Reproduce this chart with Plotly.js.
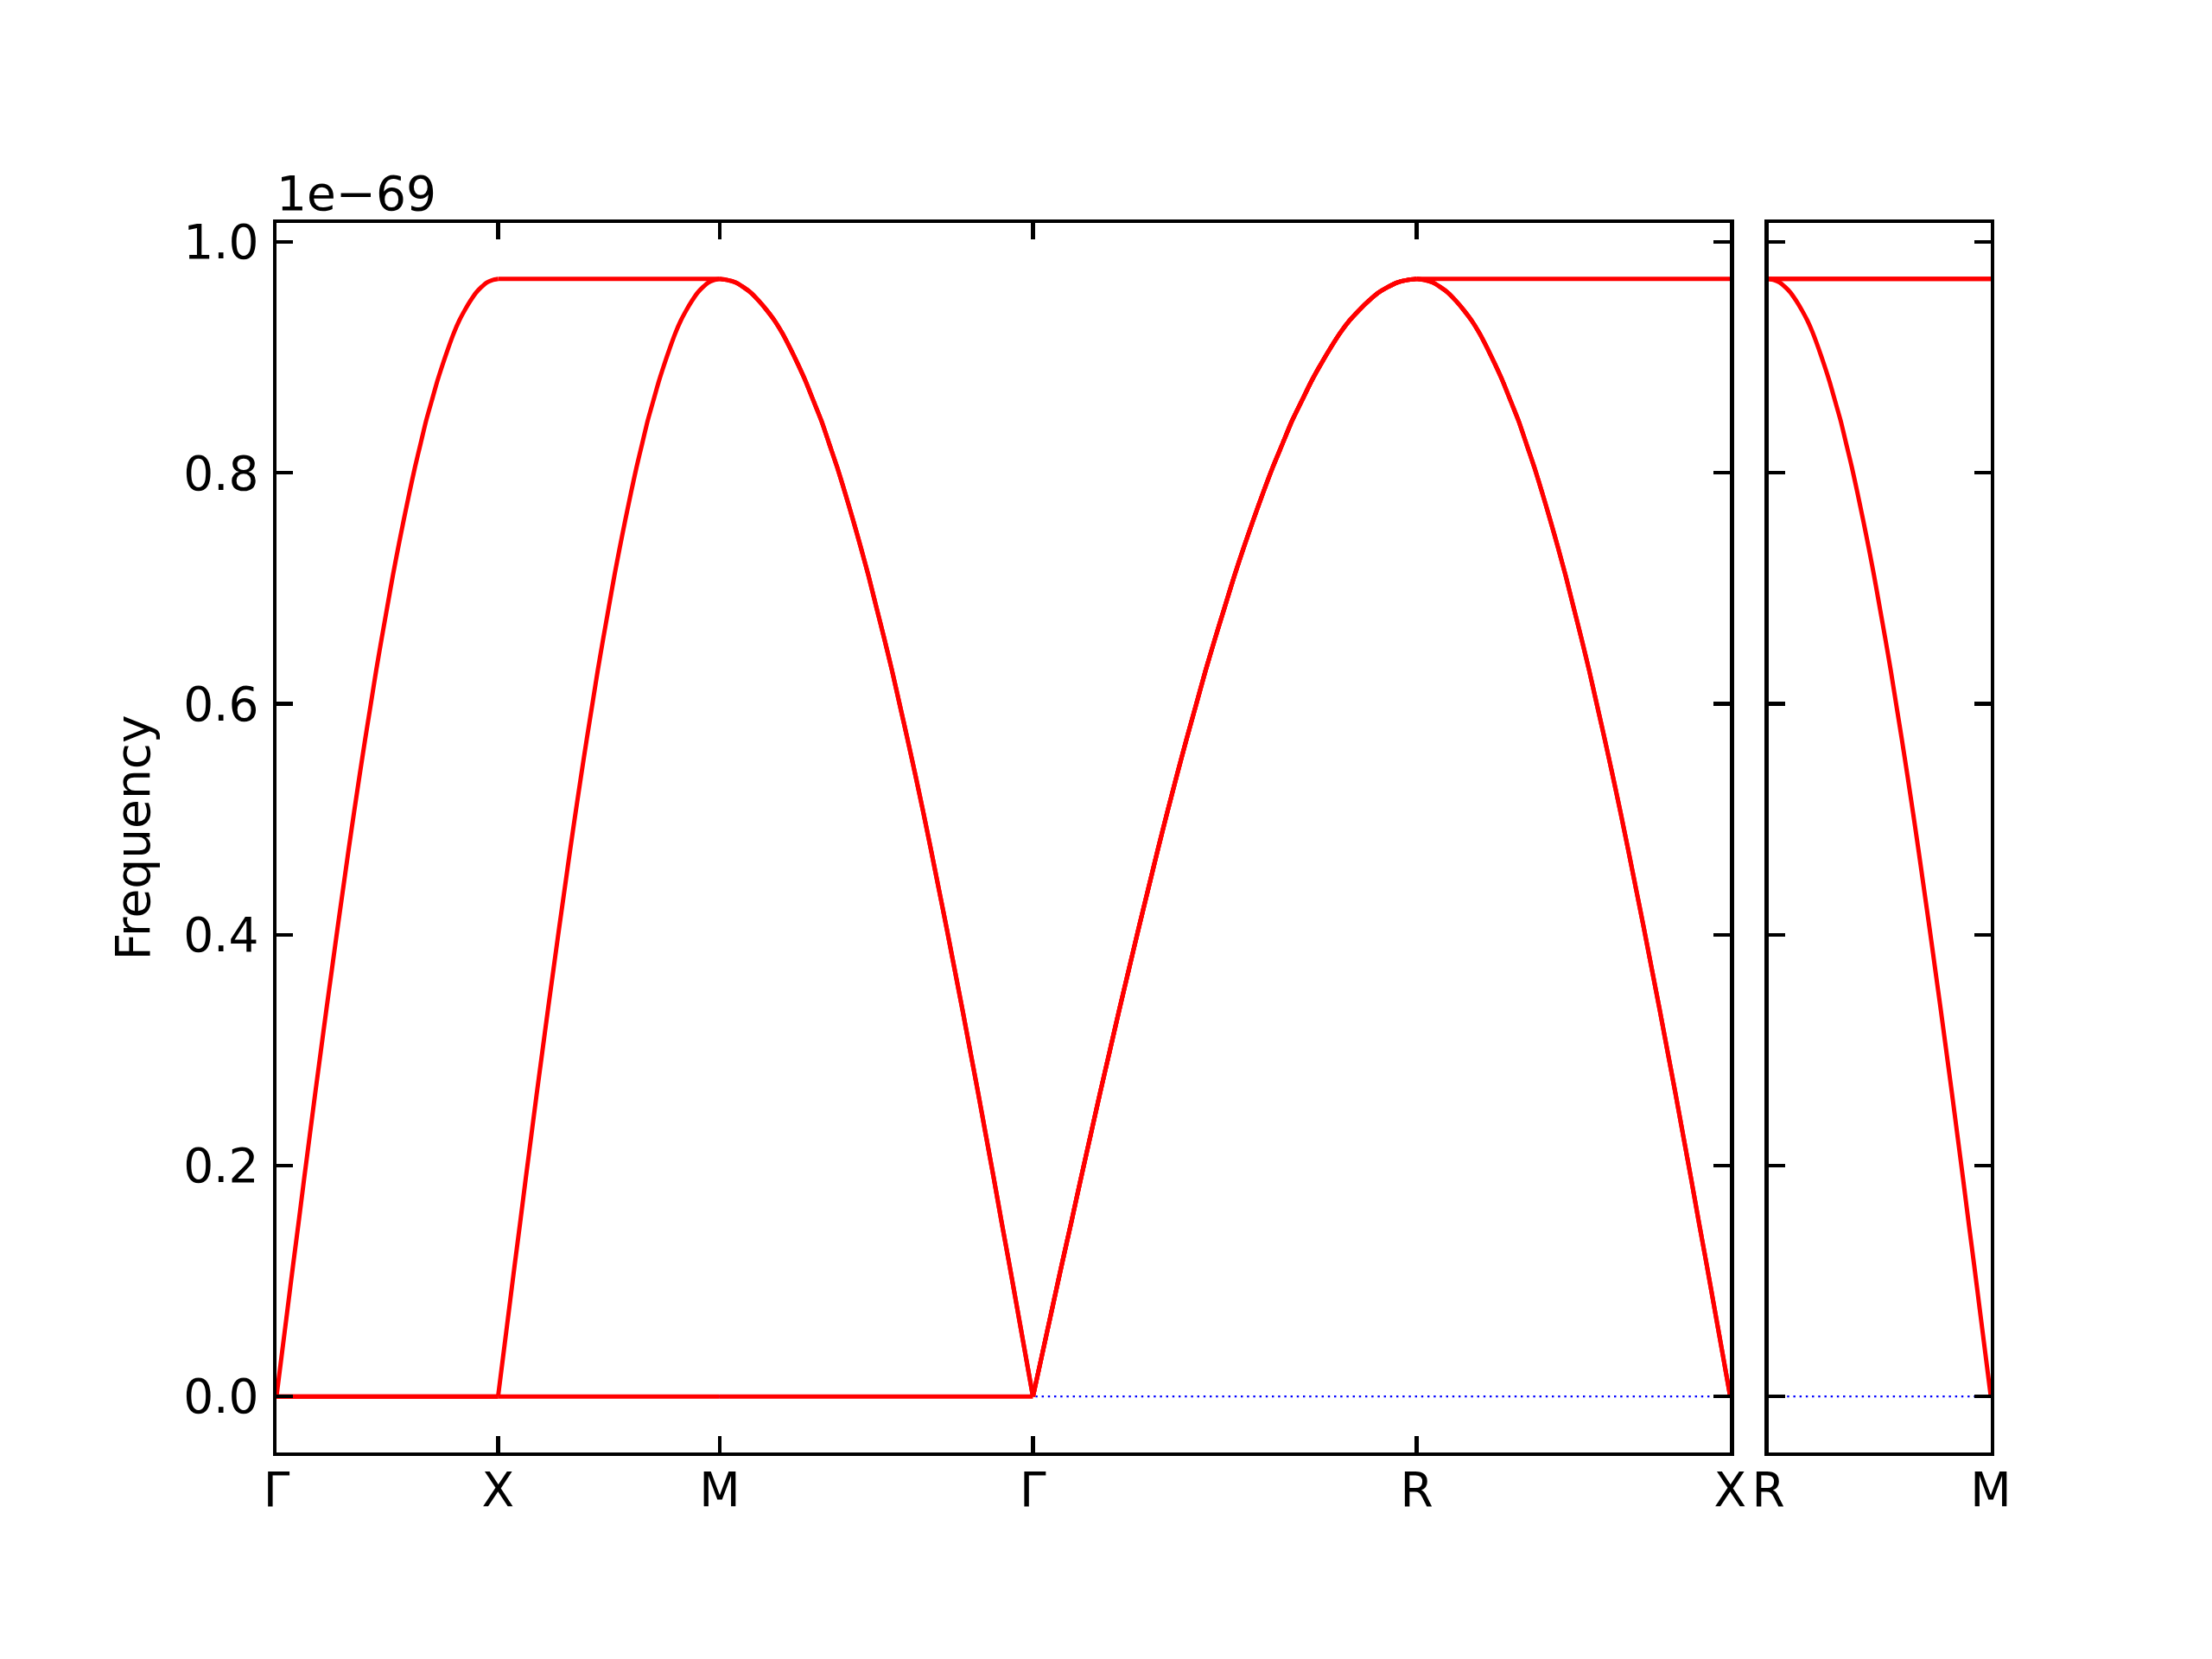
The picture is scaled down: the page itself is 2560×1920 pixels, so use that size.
<!DOCTYPE html>
<html>
<head>
<meta charset="utf-8">
<script src="https://cdn.plot.ly/plotly-3.0.1.min.js"></script>
<style>html,body{margin:0;padding:0;background:#fff;}#chart{width:2560px;height:1920px;}</style>
</head>
<body>
<div id="chart"></div>
<script>
// High-symmetry path (distances in units of pi/a) and labels
const tickPosLeft = [0, 1, 2, 3.414, 5.146, 6.561];
const tickLabelsLeft = ["Γ", "X", "M", "Γ", "R", "X"];
const tickPosRight = [0, 1];
const tickLabelsRight = ["R", "M"];

// Sample fractions along each path segment
const frac = [0, 0.025, 0.05, 0.075, 0.1, 0.125, 0.15, 0.175, 0.2, 0.225, 0.25, 0.275, 0.3, 0.325, 0.35, 0.375, 0.4, 0.425, 0.45, 0.475, 0.5,
  0.525, 0.55, 0.575, 0.6, 0.625, 0.65, 0.675, 0.7, 0.725, 0.75, 0.775, 0.8, 0.825, 0.85, 0.875, 0.9, 0.925, 0.95, 0.975, 1];

// Frequencies (units of 1e-69) read along a branch
const bandRise = [0, 0.038, 0.076, 0.114, 0.151, 0.189, 0.226, 0.263, 0.299, 0.335, 0.370, 0.405, 0.439, 0.473, 0.506, 0.538, 0.569, 0.599, 0.629, 0.657, 0.684,
  0.711, 0.736, 0.760, 0.783, 0.805, 0.825, 0.845, 0.862, 0.879, 0.894, 0.908, 0.921, 0.932, 0.941, 0.949, 0.956, 0.961, 0.965, 0.967, 0.968];
const bandFall = [0.968, 0.967, 0.965, 0.961, 0.956, 0.949, 0.941, 0.932, 0.921, 0.908, 0.894, 0.879, 0.862, 0.845, 0.825, 0.805, 0.783, 0.760, 0.736, 0.711, 0.684,
  0.657, 0.629, 0.599, 0.569, 0.538, 0.506, 0.473, 0.439, 0.405, 0.370, 0.335, 0.299, 0.263, 0.226, 0.189, 0.151, 0.114, 0.076, 0.038, 0];
const bandTop = [0.968, 0.968, 0.968, 0.968, 0.968, 0.968, 0.968, 0.968, 0.968, 0.968, 0.968, 0.968, 0.968, 0.968, 0.968, 0.968, 0.968, 0.968, 0.968, 0.968, 0.968,
  0.968, 0.968, 0.968, 0.968, 0.968, 0.968, 0.968, 0.968, 0.968, 0.968, 0.968, 0.968, 0.968, 0.968, 0.968, 0.968, 0.968, 0.968, 0.968, 0.968];
const bandZero = [0, 0, 0, 0, 0, 0, 0, 0, 0, 0, 0, 0, 0, 0, 0, 0, 0, 0, 0, 0, 0,
  0, 0, 0, 0, 0, 0, 0, 0, 0, 0, 0, 0, 0, 0, 0, 0, 0, 0, 0, 0];

// Branches per segment (three bands each)
const segGX = [bandRise, bandZero, bandZero];
const segXM = [bandTop, bandRise, bandZero];
const segMG = [bandFall, bandFall, bandZero];
const segGR = [bandRise, bandRise, bandRise];
const segRX = [bandTop, bandFall, bandFall];
const segRM = [bandTop, bandTop, bandFall];

const leftSegs = [segGX, segXM, segMG, segGR, segRX];
const rightSegs = [segRM];

function buildBand(segs, ticks, b) {
  const xs = [], ys = [];
  segs.forEach((seg, i) => {
    const a = ticks[i], L = ticks[i + 1] - ticks[i];
    frac.forEach((f, j) => { xs.push(a + f * L); ys.push(seg[b][j]); });
    xs.push(null); ys.push(null);
  });
  return {xs, ys};
}

const traces = [];
// blue dotted zero reference
traces.push({x: [tickPosLeft[0], tickPosLeft[tickPosLeft.length - 1]], y: [0, 0], mode: 'lines',
  line: {color: '#0000ff', width: 2.2, dash: '2.4px,4.8px'}, xaxis: 'x', yaxis: 'y', showlegend: false, hoverinfo: 'skip'});
traces.push({x: [tickPosRight[0], tickPosRight[1]], y: [0, 0], mode: 'lines',
  line: {color: '#0000ff', width: 2.2, dash: '2.4px,4.8px'}, xaxis: 'x2', yaxis: 'y2', showlegend: false, hoverinfo: 'skip'});

for (let b = 0; b < 3; b++) {
  const l = buildBand(leftSegs, tickPosLeft, b);
  traces.push({x: l.xs, y: l.ys, mode: 'lines', connectgaps: false,
    line: {color: '#ff0000', width: 5, simplify: false, shape: 'spline', smoothing: 0.6}, xaxis: 'x', yaxis: 'y', showlegend: false});
  const r = buildBand(rightSegs, tickPosRight, b);
  traces.push({x: r.xs, y: r.ys, mode: 'lines', connectgaps: false,
    line: {color: '#ff0000', width: 5, simplify: false, shape: 'spline', smoothing: 0.6}, xaxis: 'x2', yaxis: 'y2', showlegend: false});
}

const font = {family: 'DejaVu Sans', size: 55, color: '#000'};
const axCommon = {showline: true, linecolor: '#000', linewidth: 4.4, mirror: 'ticks', ticks: 'inside',
  ticklen: 19, tickwidth: 4.4, tickcolor: '#000', showgrid: false, zeroline: false, tickfont: font};
const yRange = [-0.0485, 1.0165];

const layout = {
  width: 2560, height: 1920,
  paper_bgcolor: '#fff', plot_bgcolor: '#fff',
  margin: {l: 320, r: 256, t: 258, b: 239, pad: 0},
  font: font,
  showlegend: false,
  xaxis: Object.assign({}, axCommon, {domain: [0, 0.848], range: [0, tickPosLeft[5]], tickmode: 'array',
    tickvals: tickPosLeft, ticktext: tickLabelsLeft, anchor: 'y', ticklabelstandoff: -8}),
  yaxis: Object.assign({}, axCommon, {range: yRange, tickmode: 'array', tickvals: [0, 0.2, 0.4, 0.6, 0.8, 1.0],
    ticktext: ['0.0', '0.2', '0.4', '0.6', '0.8', '1.0'], anchor: 'x', ticklabelstandoff: 5,
    title: {text: 'Frequency', font: font, standoff: 22}}),
  xaxis2: Object.assign({}, axCommon, {domain: [0.8703, 1], range: [0, 1], tickmode: 'array',
    tickvals: tickPosRight, ticktext: tickLabelsRight, anchor: 'y2', ticklabelstandoff: -8}),
  yaxis2: Object.assign({}, axCommon, {range: yRange, tickmode: 'array', tickvals: [0, 0.2, 0.4, 0.6, 0.8, 1.0],
    showticklabels: false, anchor: 'x2'}),
  annotations: [{text: '1e−69', xref: 'paper', yref: 'paper', x: 0, y: 1, xanchor: 'left', yanchor: 'bottom',
    showarrow: false, font: font, xshift: -2, yshift: 0}]
};

Plotly.newPlot('chart', traces, layout, {staticPlot: true});
</script>
</body>
</html>
